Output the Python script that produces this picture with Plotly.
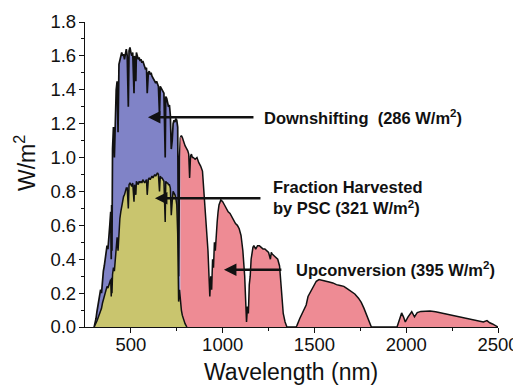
import plotly.graph_objects as go

# ---- Data ----
wavelength_nm = [
    300, 305, 310, 315, 320, 325, 330, 335, 340, 345, 350, 355, 360, 365, 370, 375, 380, 385, 390, 393, 395, 397,
    400, 405, 410, 415, 420, 425, 430, 435, 440, 445, 450, 455, 460, 465, 470, 475, 480, 486, 490, 495,
    500, 505, 510, 517, 520, 527, 530, 535, 540, 545, 550, 555, 560, 565, 570, 575, 580, 585, 589, 595,
    600, 605, 610, 615, 620, 625, 630, 635, 640, 645, 650, 656, 660, 665, 670, 675, 680, 687, 690, 695,
    700, 705, 710, 715, 720, 725, 730, 735, 740, 745, 750, 755, 760, 765, 770, 775, 780, 785, 790, 795,
    800, 805, 810, 815, 820, 825, 830, 835, 840, 850, 860, 870, 880, 890, 900, 910, 920, 930, 935, 940,
    945, 950, 955, 960, 965, 970, 975, 980, 990, 1000, 1010, 1020, 1030, 1040, 1050, 1060, 1070, 1080,
    1090, 1100, 1110, 1120, 1125, 1130, 1135, 1140, 1145, 1150, 1155, 1160, 1165, 1170, 1180, 1190, 1200,
    1210, 1220, 1230, 1240, 1250, 1260, 1265, 1270, 1280, 1290, 1300, 1310, 1315, 1320, 1325, 1330, 1340,
    1350, 1400, 1405, 1420, 1440, 1455, 1465, 1480, 1495, 1510, 1525, 1540, 1560, 1580, 1600, 1620, 1640,
    1660, 1680, 1700, 1720, 1740, 1755, 1770, 1785, 1800, 1810, 1950, 1960, 1975, 1985, 1995, 2010, 2030,
    2045, 2060, 2080, 2100, 2130, 2160, 2190, 2220, 2250, 2280, 2310, 2340, 2370, 2400, 2420, 2440, 2455,
    2470, 2485, 2500,
]
irradiance = [
    0.00, 0.02, 0.05, 0.09, 0.12, 0.15, 0.18, 0.22, 0.20, 0.28, 0.33, 0.36, 0.40, 0.44, 0.48, 0.46, 0.57, 0.60, 0.68, 0.40, 0.72, 0.45,
    1.05, 1.18, 1.00, 1.30, 1.40, 1.45, 1.15, 1.55, 1.58, 1.60, 1.62, 1.60, 1.61, 1.58, 1.62, 1.64, 1.60, 1.30, 1.63, 1.65,
    1.62, 1.60, 1.62, 1.38, 1.60, 1.45, 1.62, 1.60, 1.58, 1.59, 1.57, 1.58, 1.56, 1.57, 1.55, 1.54, 1.52, 1.53, 1.38, 1.50,
    1.51, 1.49, 1.50, 1.48, 1.47, 1.46, 1.45, 1.44, 1.45, 1.43, 1.42, 1.25, 1.42, 1.41, 1.40, 1.39, 1.38, 1.00, 1.36, 1.35,
    1.33, 1.30, 1.31, 1.25, 1.05, 1.10, 1.20, 1.22, 1.21, 1.23, 1.22, 1.18, 0.30, 1.00, 1.12, 1.13, 1.12, 1.10, 1.09, 1.07,
    1.06, 1.05, 1.04, 1.02, 0.88, 1.01, 1.02, 1.00, 1.00, 0.99, 1.00, 0.97, 0.95, 0.92, 0.75, 0.60, 0.45, 0.18, 0.30, 0.22,
    0.40, 0.35, 0.50, 0.45, 0.58, 0.62, 0.68, 0.72, 0.75, 0.74, 0.72, 0.70, 0.68, 0.67, 0.65, 0.63, 0.61, 0.60,
    0.58, 0.54, 0.45, 0.30, 0.10, 0.03, 0.12, 0.08, 0.25, 0.30, 0.40, 0.45, 0.47, 0.48, 0.46, 0.48, 0.48,
    0.47, 0.46, 0.46, 0.45, 0.44, 0.40, 0.44, 0.43, 0.42, 0.41, 0.40, 0.36, 0.30, 0.24, 0.15, 0.08, 0.03,
    0.00, 0.00, 0.01, 0.05, 0.10, 0.13, 0.18, 0.21, 0.24, 0.27, 0.28, 0.275, 0.27, 0.265, 0.26, 0.25, 0.245,
    0.24, 0.225, 0.21, 0.195, 0.17, 0.145, 0.11, 0.07, 0.02, 0.00, 0.00, 0.03, 0.083, 0.06, 0.03, 0.06, 0.09,
    0.06, 0.085, 0.092, 0.094, 0.094, 0.09, 0.083, 0.076, 0.07, 0.062, 0.055, 0.048, 0.041, 0.035, 0.03, 0.038, 0.025,
    0.018, 0.008, 0.00,
]

psc_wavelength_nm = [
    300, 305, 310, 315, 320, 325, 330, 335, 340, 345, 350, 355, 360, 365, 370, 375, 380, 385, 390, 393, 395, 397,
    400, 405, 410, 415, 420, 425, 430, 435, 440, 445, 450, 455, 460, 465, 470, 475, 480, 486, 490, 495,
    500, 505, 510, 517, 520, 527, 530, 535, 540, 545, 550, 555, 560, 565, 570, 575, 580, 585, 589, 595,
    600, 605, 610, 615, 620, 625, 630, 635, 640, 645, 650, 656, 660, 665, 670, 675, 680, 687, 690, 695,
    700, 705, 710, 715, 720, 725, 730, 735, 740, 745, 750, 755, 760, 765, 770, 775, 780, 785, 790, 795,
    800, 805,
]
psc_harvested = [
    0.00, 0.01, 0.02, 0.035, 0.05, 0.065, 0.08, 0.10, 0.11, 0.14, 0.16, 0.19, 0.20, 0.22, 0.24, 0.23, 0.25, 0.26, 0.28, 0.18, 0.29, 0.20,
    0.31, 0.35, 0.33, 0.42, 0.48, 0.53, 0.45, 0.60, 0.64, 0.68, 0.72, 0.75, 0.77, 0.78, 0.80, 0.82, 0.82, 0.70, 0.84, 0.85,
    0.84, 0.83, 0.85, 0.74, 0.84, 0.78, 0.86, 0.85, 0.84, 0.86, 0.85, 0.86, 0.85, 0.87, 0.86, 0.85, 0.86, 0.87, 0.78, 0.87,
    0.88, 0.87, 0.88, 0.89, 0.88, 0.89, 0.90, 0.89, 0.90, 0.91, 0.90, 0.80, 0.89, 0.88, 0.88, 0.87, 0.86, 0.62, 0.86, 0.85,
    0.85, 0.84, 0.84, 0.82, 0.66, 0.74, 0.80, 0.79, 0.78, 0.76, 0.72, 0.55, 0.15, 0.22, 0.15, 0.10, 0.07, 0.05, 0.03, 0.02,
    0.01, 0.00,
]

split_nm = 770  # boundary between downshifting and upconversion regions

x_ticks = [500, 1000, 1500, 2000, 2500]
x_minor_ticks = [750, 1250, 1750, 2250]

labels = {
    "down": "Downshifting&nbsp; (286 W/m<sup>2</sup>)",
    "psc": "Fraction Harvested<br>by PSC (321 W/m<sup>2</sup>)",
    "up": "Upconversion (395 W/m<sup>2</sup>)",
    "x": "Wavelength (nm)",
    "y": "W/m<sup>2</sup>",
}

blue_x = [w for w in wavelength_nm if w <= split_nm]
blue_y = [v for w, v in zip(wavelength_nm, irradiance) if w <= split_nm]
red_x = [w for w in wavelength_nm if w >= split_nm]
red_y = [v for w, v in zip(wavelength_nm, irradiance) if w >= split_nm]

FONT = "Liberation Sans, Arial, sans-serif"
INK = "#111111"

fig = go.Figure()
fig.add_trace(go.Scatter(x=blue_x, y=blue_y, mode="lines", fill="tozeroy",
                         fillcolor="#8083c7", line=dict(color=INK, width=1.7),
                         hoverinfo="skip", showlegend=False))
fig.add_trace(go.Scatter(x=red_x, y=red_y, mode="lines", fill="tozeroy",
                         fillcolor="#ee8b94", line=dict(color=INK, width=1.5),
                         hoverinfo="skip", showlegend=False))
fig.add_trace(go.Scatter(x=psc_wavelength_nm, y=psc_harvested, mode="lines", fill="tozeroy",
                         fillcolor="#c9c56e", line=dict(color=INK, width=1.5),
                         hoverinfo="skip", showlegend=False))

arrow_common = dict(showarrow=True, arrowhead=2, arrowsize=1, arrowwidth=2.5,
                    arrowcolor=INK, axref="x", ayref="y", text="")
fig.add_annotation(x=593, y=1.238, ax=1176, ay=1.238, **arrow_common)
fig.add_annotation(x=631, y=0.76, ax=1214, ay=0.76, **arrow_common)
fig.add_annotation(x=1007, y=0.338, ax=1328, ay=0.338, **arrow_common)

txt_font = dict(family=FONT, size=16.5, color=INK)
fig.add_annotation(x=1212, y=1.237, text="<b>" + labels["down"] + "</b>", showarrow=False,
                   xanchor="left", yanchor="middle", align="left", font=txt_font)
fig.add_annotation(x=1265, y=0.763, text="<b>" + labels["psc"] + "</b>", showarrow=False,
                   xanchor="left", yanchor="middle", align="left", font=txt_font)
fig.add_annotation(x=1387, y=0.345, text="<b>" + labels["up"] + "</b>", showarrow=False,
                   xanchor="left", yanchor="middle", align="left", font=txt_font)

# axis titles placed precisely in paper coordinates
title_font = dict(family=FONT, size=23, color=INK)
fig.add_annotation(xref="paper", yref="paper", x=0.499, y=-0.148, text=labels["x"],
                   showarrow=False, xanchor="center", yanchor="middle", font=title_font)
fig.add_annotation(xref="paper", yref="paper", x=-0.145, y=0.538, text=labels["y"],
                   showarrow=False, xanchor="center", yanchor="middle", textangle=-90,
                   font=title_font)

# the page body adds an 8 px offset, so the figure is 8 px smaller and margins compensate
fig.update_layout(
    width=513, height=380,
    margin=dict(l=77, r=23, t=14, b=61),
    paper_bgcolor="white", plot_bgcolor="white",
    font=dict(family=FONT, color=INK),
)
fig.update_xaxes(
    range=[250, 2500], tickvals=x_ticks, automargin=False,
    showgrid=False, zeroline=False, showline=True, linecolor=INK, linewidth=1.3,
    ticks="outside", ticklen=5, tickwidth=1.3, tickcolor=INK, ticklabelstandoff=-4,
    tickfont=dict(family=FONT, size=18.5, color=INK),
    minor=dict(tickvals=x_minor_ticks, ticks="outside", ticklen=3, tickcolor=INK),
)
fig.update_yaxes(
    range=[0, 1.8], dtick=0.2, tick0=0, tickformat=".1f", automargin=False,
    showgrid=False, zeroline=False, showline=True, linecolor=INK, linewidth=1.3,
    ticks="outside", ticklen=5, tickwidth=1.3, tickcolor=INK, ticklabelstandoff=-1,
    tickfont=dict(family=FONT, size=18.5, color=INK),
    minor=dict(dtick=0.1, ticks="outside", ticklen=3, tickcolor=INK),
)

fig.write_html("out.html")
